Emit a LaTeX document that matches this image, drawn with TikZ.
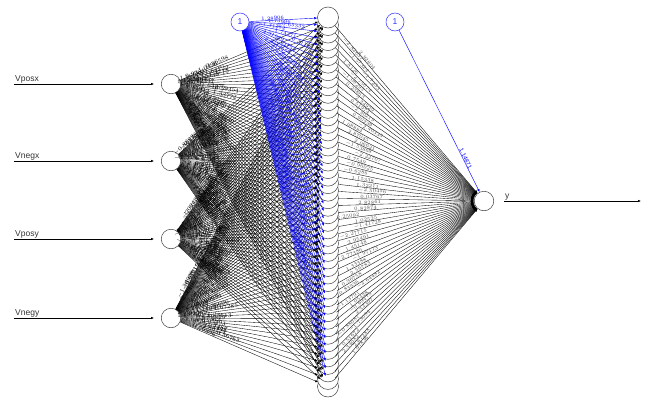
\documentclass[tikz,border=0pt]{standalone}
\usepackage{fontspec}
\setmainfont{Liberation Sans}
\usetikzlibrary{arrows.meta}

\begin{document}
\begin{tikzpicture}[x=1pt,y=-1pt,>={Latex[length=3pt,width=2.4pt]},
  every node/.style={font=\fontsize{8.5}{10}\selectfont},
  neuron/.style={draw=black!75,circle,fill=white,minimum size=19.5pt,inner sep=0pt,line width=0.5pt},
  biasnode/.style={draw=blue!80,circle,fill=white,minimum size=18pt,inner sep=0pt,text=blue!80,line width=0.5pt},
  edge/.style={->,line width=0.35pt},
  biasedge/.style={->,blue,line width=0.4pt},
  wlab/.style={font=\fontsize{6.5}{7}\selectfont,inner sep=0.2pt,sloped,above}]
  \useasboundingbox (0,0) rectangle (649,402);
  \pgfmathsetseed{2024}

  % input layer
  \foreach \i/\yy/\name in {1/84/Vposx,2/161/Vnegx,3/239/Vposy,4/318/Vnegy}{
    \node[neuron] (in\i) at (171,\yy) {};
    \node[anchor=south west,inner sep=1pt,text=black!80] (lab\i) at (14,\yy) {\name};
    \draw[->,line width=0.4pt,shorten >=7pt] (lab\i.south west) -- (in\i);
  }

  % hidden layer, 50 neurons
  \foreach \j in {50,...,1}{
    \pgfmathsetmacro{\hy}{17.5+(\j-1)*7.5306}
    \node[neuron,minimum size=21pt] (h\j) at (328,\hy) {};
  }

  % output layer
  \node[neuron] (out) at (484,201) {};
  \node[anchor=south west,inner sep=1pt,text=black!80] (ylab) at (504,201) {y};
  \coordinate (yend) at (641,201);
  \draw[->,line width=0.4pt] (ylab.south west) -- (yend);

  % bias neurons
  \node[biasnode] (b1) at (240,22) {1};
  \node[biasnode] (b2) at (395,22) {1};

  % weights
  \foreach \j in {1,...,50}{
    \foreach \i in {1,...,4}{
      \pgfmathsetmacro{\w}{3*rand}
      \pgfmathsetmacro{\p}{0.06+0.26*rnd}
      \draw[edge] (in\i) -- node[wlab,pos=\p]{\pgfmathprintnumber[fixed,precision=5]{\w}} (h\j);
    }
    \pgfmathsetmacro{\w}{3*rand}
    \pgfmathsetmacro{\p}{0.3+0.45*rnd}
    \draw[biasedge] (b1) -- node[wlab,pos=\p,font=\fontsize{5.5}{6}\selectfont]{\pgfmathprintnumber[fixed,precision=5]{\w}} (h\j);
    \pgfmathsetmacro{\w}{3*rand}
    \pgfmathsetmacro{\p}{0.07+0.18*rnd}
    \draw[edge] (h\j) -- node[wlab,pos=\p,text=black!70,font=\fontsize{5.5}{6}\selectfont]{\pgfmathprintnumber[fixed,precision=5]{\w}} (out);
  }
  \draw[biasedge] (b2) -- node[wlab,pos=0.8,font=\fontsize{6}{7}\selectfont]{1.14871} (out);
\end{tikzpicture}
\end{document}
